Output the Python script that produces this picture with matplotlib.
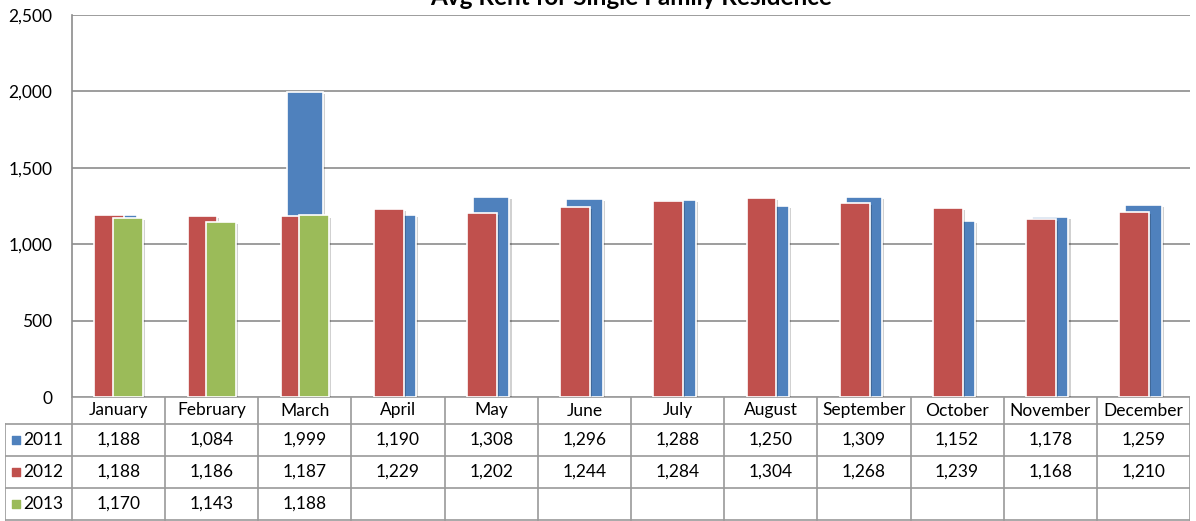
import matplotlib
matplotlib.use("Agg")
import matplotlib.pyplot as plt
import matplotlib.patheffects as pe
import numpy as np

# ---------------------------------------------------------------
# Data
# ---------------------------------------------------------------
months = ["January", "February", "March", "April", "May", "June", "July",
          "August", "September", "October", "November", "December"]
rent_2011 = [1188, 1084, 1999, 1190, 1308, 1296, 1288, 1250, 1309, 1152, 1178, 1259]
rent_2012 = [1188, 1186, 1187, 1229, 1202, 1244, 1284, 1304, 1268, 1239, 1168, 1210]
rent_2013 = [1170, 1143, 1188]
series_names = ["2011", "2012", "2013"]
yticks = [0, 500, 1000, 1500, 2000, 2500]

BLUE, RED, GREEN = "#4F81BD", "#C0504D", "#9BBB59"
GRID = "#8c8c8c"
FS = 12.5
plt.rcParams["font.family"] = ["Lato", "DejaVu Sans"]

W, H = 1196, 521
fig = plt.figure(figsize=(W / 100, H / 100), dpi=100)

# plot area in pixels
L, R, T, B = 72, 1190, 15, 397
ax = fig.add_axes([L / W, 1 - B / H, (R - L) / W, (B - T) / H])

x = np.arange(len(months))
shadow = [pe.SimplePatchShadow(offset=(1.5, -1.5), shadow_rgbFace="k", alpha=0.18), pe.Normal()]

b1 = ax.bar(x, rent_2011, width=0.39, color=BLUE, edgecolor="white", linewidth=1.2, zorder=2)
b2 = ax.bar(x - 0.1, rent_2012, width=0.32, color=RED, edgecolor="white", linewidth=1.2, zorder=3)
b3 = ax.bar(x[:len(rent_2013)] + 0.1, rent_2013, width=0.32, color=GREEN,
            edgecolor="white", linewidth=1.2, zorder=4)
for bars in (b1, b2, b3):
    for p in bars:
        p.set_path_effects(shadow)

ax.set_xlim(-0.5, len(months) - 0.5)
ax.set_ylim(0, 2500)
ax.set_yticks(yticks)
ax.set_yticklabels([f"{v:,}" for v in yticks], fontsize=FS)
ax.set_xticks([])
ax.tick_params(axis="y", length=0, pad=14)
ax.yaxis.grid(True, color=GRID, linewidth=1.2)
ax.set_axisbelow(True)
for s in ["top", "right", "bottom"]:
    ax.spines[s].set_visible(False)
ax.spines["left"].set_color(GRID)
ax.spines["left"].set_linewidth(1.2)

fig.text((L + R) / 2 / W, 1 - 5 / H, "Avg Rent for Single Family Residence",
         ha="center", va="baseline", fontsize=17.5, fontweight="bold")

# ---------------------------------------------------------------
# Data table below the plot
# ---------------------------------------------------------------
TL = 5
tab = fig.add_axes([TL / W, 0, (R - TL) / W, (H - B) / H])
cw = (R - L) / len(months)
tab.set_xlim(-0.5 - (L - TL) / cw, len(months) - 0.5)
tab.set_ylim(H - B, 0)
tab.axis("off")

row_edges = [0, 27, 59, 91, 123]
lc = "#9a9a9a"
lw = 1.2
left = -0.5 - (L - TL) / cw
# horizontal lines
tab.plot([-0.5, len(months) - 0.5], [row_edges[0]] * 2, color=lc, lw=lw)
for y in row_edges[1:]:
    tab.plot([left, len(months) - 0.5], [y, y], color=lc, lw=lw)
# vertical lines
for i in range(len(months) + 1):
    tab.plot([i - 0.5, i - 0.5], [row_edges[0], row_edges[-1]], color=lc, lw=lw)
tab.plot([left, left], [row_edges[1], row_edges[-1]], color=lc, lw=lw)

for i, m in enumerate(months):
    tab.text(i, (row_edges[0] + row_edges[1]) / 2, m, ha="center", va="center", fontsize=FS)

rows = [rent_2011, rent_2012, rent_2013]
colors = [BLUE, RED, GREEN]
for r, (vals, name, c) in enumerate(zip(rows, series_names, colors)):
    yc = (row_edges[r + 1] + row_edges[r + 2]) / 2
    tab.scatter([left + 0.12], [yc], marker="s", s=30, color=c)
    tab.text(left + 0.2, yc, name, ha="left", va="center", fontsize=FS)
    for i, v in enumerate(vals):
        tab.text(i, yc, f"{v:,}", ha="center", va="center", fontsize=FS)

fig.savefig("out.png", dpi=100)
